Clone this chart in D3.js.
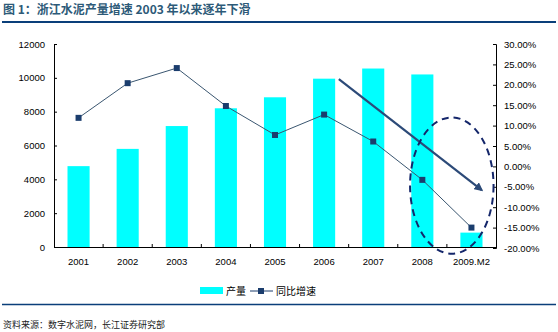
<!DOCTYPE html>
<html><head><meta charset="utf-8">
<script src="https://cdn.jsdelivr.net/npm/d3@7"></script>
<style>body{margin:0;background:#fff;}svg{display:block;}</style>
</head><body>
<script>
const categories = ["2001","2002","2003","2004","2005","2006","2007","2008","2009.M2"];
const output = [4780, 5800, 7150, 8200, 8850, 9950, 10550, 10200, 850];
const growth = [11.9, 20.4, 24.1, 14.8, 7.7, 12.7, 6.1, -3.3, -15.0];
const leftTicks = [0,2000,4000,6000,8000,10000,12000];
const rightTicks = [-20,-15,-10,-5,0,5,10,15,20,25,30];
const titleText = "图 1：浙江水泥产量增速 2003 年以来逐年下滑";
const legendLabels = ["产量","同比增速"];
const sourceText = "资料来源：数字水泥网，长江证券研究部";
// annotation in data terms: [category, band offset, growth %]
const arrowFrom = ["2006", 0.8, 21.4];
const arrowTo = ["2009.M2", 0.71, -5.8];
const ellipseCenter = ["2008", 1.1, -4.7];
const ellipseHalf = [0.85, 16.7]; // half-width in bands, half-height in %

const W = 558, H = 332;
const svg = d3.select("body").append("svg").attr("width", W).attr("height", H);
const cjk = "'Noto Sans CJK SC', sans-serif";
const num = "'Liberation Sans', Arial, sans-serif";

const x0 = 54, x1 = 496, yTop = 44, yBot = 247;
const x = d3.scaleBand().domain(categories).range([x0, x1]).paddingInner(0.55).paddingOuter(0.275);
const xb = d3.scaleBand().domain(categories).range([x0, x1]);
const yL = d3.scaleLinear().domain([0, 12000]).range([yBot, yTop]);
const yR = d3.scaleLinear().domain([-20, 30]).range([yBot + 1, yTop]);

// title
svg.append("text").attr("x", 3).attr("y", 14).attr("font-family", cjk).attr("font-size", 12)
  .attr("font-weight", "bold").attr("fill", "#2d5a78").text(titleText);
svg.append("line").attr("x1", 2).attr("x2", 556).attr("y1", 22).attr("y2", 22)
  .attr("stroke", "#0a3f7a").attr("stroke-width", 2);

// bars
svg.selectAll("rect.bar").data(output).join("rect").attr("class","bar")
  .attr("x", (d,i) => x(categories[i])).attr("width", x.bandwidth())
  .attr("y", d => yL(d)).attr("height", d => yBot - yL(d)).attr("fill", "#00ffff");

// axes
const axL = svg.append("g").attr("transform", `translate(${x0},0)`)
  .call(d3.axisLeft(yL).tickValues(leftTicks).tickSize(-3).tickPadding(9).tickFormat(d3.format("d")));
const axR = svg.append("g").attr("transform", `translate(${x1},0)`)
  .call(d3.axisRight(yR).tickValues(rightTicks).tickSize(-3).tickPadding(8).tickFormat(d => d.toFixed(2) + "%"));
const axB = svg.append("g").attr("transform", `translate(0,${yBot})`)
  .call(d3.axisBottom(xb).tickSize(0).tickPadding(11));
[axL, axR, axB].forEach(a => {
  a.selectAll("path.domain").attr("stroke", "#000").attr("stroke-width", 1);
  a.selectAll("line").attr("stroke", "#000");
  a.selectAll("text").attr("font-family", num).attr("font-size", 9.5).attr("fill", "#000");
});
svg.selectAll("line.sep").data(categories.slice(1)).join("line").attr("class","sep")
  .attr("x1", d => xb(d)).attr("x2", d => xb(d)).attr("y1", yBot).attr("y2", yBot - 3).attr("stroke", "#000");

// growth line
const cx = c => xb(c) + xb.bandwidth() / 2;
const line = d3.line().x((d,i) => cx(categories[i])).y(d => yR(d));
svg.append("path").datum(growth).attr("d", line).attr("fill", "none")
  .attr("stroke", "#3a5670").attr("stroke-width", 1);
svg.selectAll("rect.mk").data(growth).join("rect").attr("class","mk")
  .attr("x", (d,i) => cx(categories[i]) - 3).attr("y", d => yR(d) - 3)
  .attr("width", 6).attr("height", 6).attr("fill", "#1b3d6d");

// annotation arrow
const defs = svg.append("defs");
defs.append("marker").attr("id","ah").attr("viewBox","0 0 10 10").attr("refX",8).attr("refY",5)
  .attr("markerWidth",4).attr("markerHeight",4).attr("orient","auto")
  .append("path").attr("d","M0,0 L10,5 L0,10 Z").attr("fill","#2c4a78");
const px = a => xb(a[0]) + xb.bandwidth() * a[1];
svg.append("line").attr("x1", px(arrowFrom)).attr("y1", yR(arrowFrom[2]))
  .attr("x2", px(arrowTo)).attr("y2", yR(arrowTo[2]))
  .attr("stroke", "#2c4a78").attr("stroke-width", 2.2).attr("marker-end", "url(#ah)");
// dashed ellipse
svg.append("ellipse").attr("cx", px(ellipseCenter)).attr("cy", yR(ellipseCenter[2]))
  .attr("rx", xb.bandwidth() * ellipseHalf[0])
  .attr("ry", yR(ellipseCenter[2] - ellipseHalf[1]) - yR(ellipseCenter[2]))
  .attr("fill","none").attr("stroke","#14266a").attr("stroke-width",2).attr("stroke-dasharray","7,5");

// legend
const lg = svg.append("g");
lg.append("rect").attr("x", 200).attr("y", 287).attr("width", 23).attr("height", 7).attr("fill", "#00ffff");
lg.append("text").attr("x", 226).attr("y", 295).attr("font-family", cjk).attr("font-size", 10).text(legendLabels[0]);
lg.append("line").attr("x1", 250).attr("x2", 273).attr("y1", 291).attr("y2", 291).attr("stroke", "#1b3d6d").attr("stroke-width", 1);
lg.append("rect").attr("x", 258).attr("y", 288).attr("width", 6).attr("height", 6).attr("fill", "#1b3d6d");
lg.append("text").attr("x", 276).attr("y", 295).attr("font-family", cjk).attr("font-size", 10).text(legendLabels[1]);

svg.append("line").attr("x1", 2).attr("x2", 556).attr("y1", 304.5).attr("y2", 304.5)
  .attr("stroke", "#0a3f7a").attr("stroke-width", 1.5);
svg.append("text").attr("x", 3).attr("y", 328).attr("font-family", cjk).attr("font-size", 9)
  .attr("fill", "#222").text(sourceText);
</script>
</body></html>
